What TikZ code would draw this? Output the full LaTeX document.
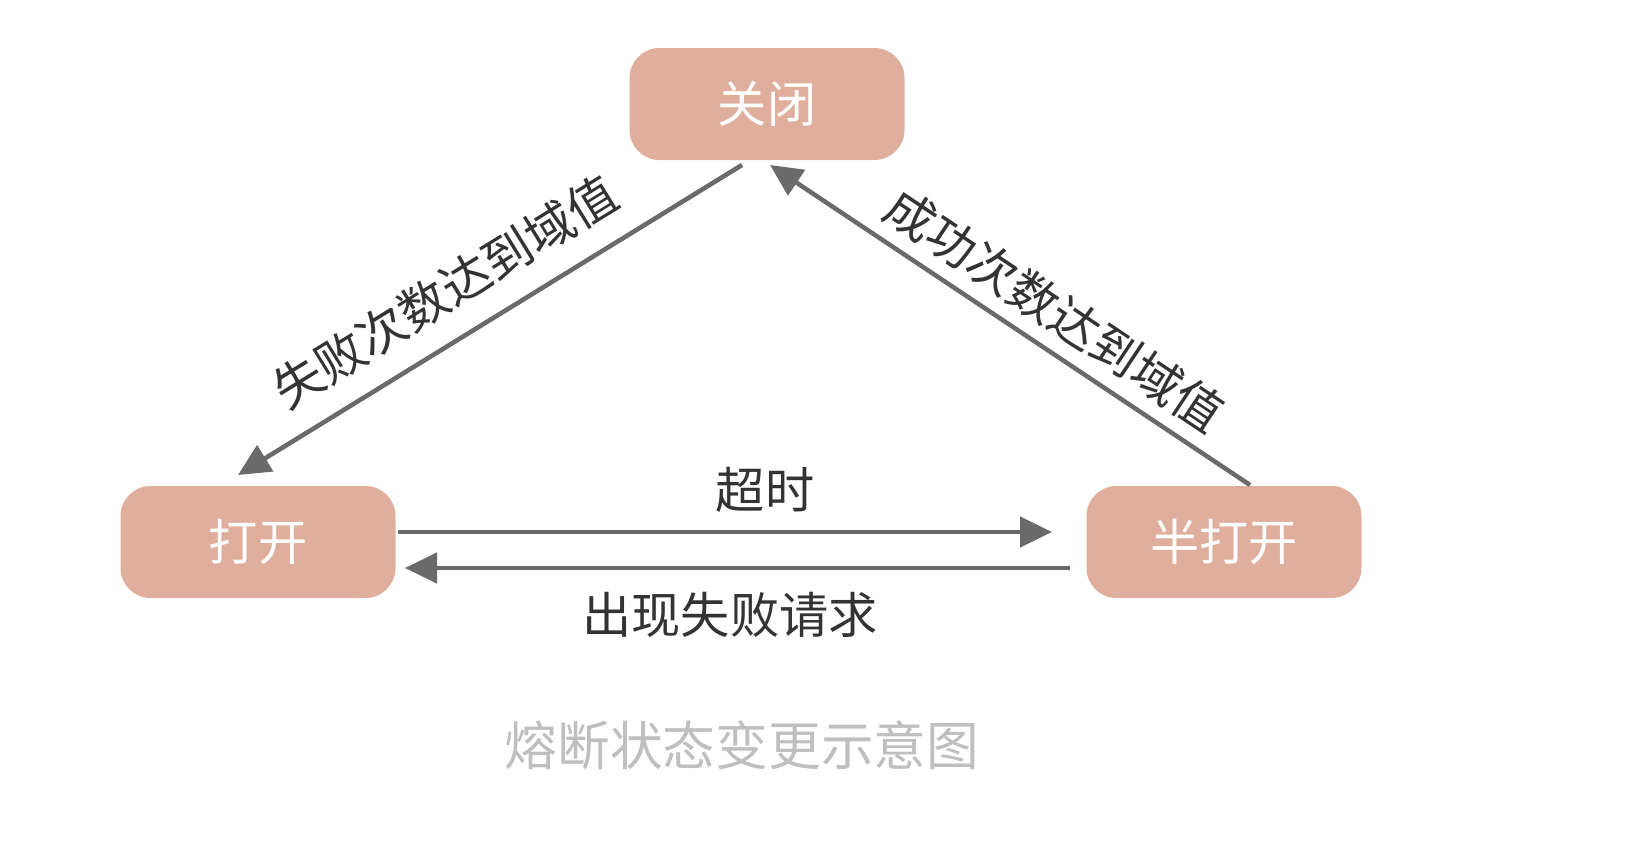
\documentclass[tikz,border=0pt]{standalone}
\usepackage{fontspec}
\setmainfont{Noto Sans CJK SC}
\usetikzlibrary{arrows.meta}
\definecolor{boxfill}{HTML}{E0AE9C}
\definecolor{linegray}{HTML}{6A6A6A}
\tikzset{
  state/.style={fill=boxfill, rounded corners=0.3cm, minimum width=2.75cm, minimum height=1.12cm, text=white, font=\fontsize{14}{16}\selectfont},
  trans/.style={draw=linegray, line width=1.3pt, -{Triangle[length=0.32cm,width=0.3cm]}},
  lab/.style={text=black!80, font=\fontsize{14}{16}\selectfont}
}
\begin{document}
\begin{tikzpicture}
\useasboundingbox (0,0) rectangle (16.36,8.62);
\node[state] (closed) at (7.67, 7.58) {关闭};
\node[state] (open) at (2.58, 3.20) {打开};
\node[state] (half) at (12.24, 3.20) {半打开};
\coordinate (c1) at (7.42, 6.97);
\coordinate (o1) at (2.38, 3.87);
\coordinate (h1) at (12.50, 3.77);
\coordinate (c2) at (7.70, 6.97);
\coordinate (o2) at (3.98, 3.30);
\coordinate (h2) at (10.52, 3.30);
\coordinate (h3) at (10.70, 2.94);
\coordinate (o3) at (4.05, 2.94);
\draw[trans] (c1) -- (o1);
\draw[trans] (h1) -- (c2);
\draw[trans] (o2) -- (h2);
\draw[trans] (h3) -- (o3);
\node[lab, rotate=31.6] (fail) at (4.45, 5.70) {失败次数达到域值};
\node[lab, rotate=-33.7] (succ) at (10.55, 5.52) {成功次数达到域值};
\node[lab] (timeout) at (7.65, 3.72) {超时};
\node[lab] (failreq) at (7.30, 2.47) {出现失败请求};
\node[text=black!25, font=\fontsize{15}{17}\selectfont] (caption) at (7.42, 1.17) {熔断状态变更示意图};
\end{tikzpicture}
\end{document}
